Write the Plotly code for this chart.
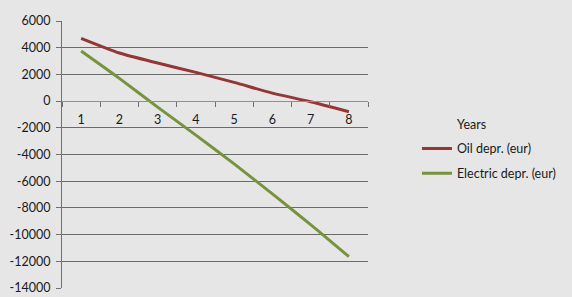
import plotly.graph_objects as go

years = ["1", "2", "3", "4", "5", "6", "7", "8"]
oil = [4700, 3600, 2850, 2150, 1400, 600, -50, -800]
electric = [3750, 1700, -450, -2550, -4700, -6950, -9250, -11650]
y_ticks = [6000, 4000, 2000, 0, -2000, -4000, -6000, -8000, -10000, -12000, -14000]
y_labels = [str(v) for v in y_ticks]

fig = go.Figure()
fig.add_trace(go.Scatter(x=years, y=[None] * len(years), name="Years", mode="lines",
                         legendgroup="a", line=dict(color="rgba(0,0,0,0)", width=3)))
fig.add_trace(go.Scatter(x=years, y=oil, name="Oil depr. (eur)", mode="lines", legendgroup="b",
                         line=dict(color="#943634", width=3, shape="spline", smoothing=0.6)))
fig.add_trace(go.Scatter(x=years, y=electric, name="Electric depr. (eur)", mode="lines",
                         legendgroup="c",
                         line=dict(color="#77933c", width=3, shape="spline", smoothing=0.6)))

fig.update_layout(
    width=572, height=297,
    margin=dict(l=62, r=204, t=21, b=9, autoexpand=False),
    paper_bgcolor="#e6e6e6", plot_bgcolor="#e6e6e6",
    font=dict(family="Lato, Open Sans, sans-serif", size=12.5, color="#1a1a1a"),
    showlegend=True,
    legend=dict(x=1.16, y=0.67, xanchor="left", yanchor="top", bgcolor="rgba(0,0,0,0)",
                font=dict(size=12.5), itemwidth=30, tracegroupgap=5.5),
    xaxis=dict(type="category", anchor="free", position=0.7, showline=True,
               linecolor="#909090", linewidth=1, ticks="outside", tickson="boundaries",
               ticklen=5, tickcolor="#707070", showgrid=False, zeroline=False,
               range=[-0.5, 7.5], fixedrange=True, ticklabelstandoff=7, automargin=False),
    yaxis=dict(range=[-14000, 6000], tickvals=y_ticks, ticktext=y_labels, showline=True,
               linecolor="#707070", linewidth=1, ticks="outside", ticklen=5,
               tickcolor="#707070", showgrid=True, gridcolor="#6a6a6a", gridwidth=1,
               zeroline=False, domain=[0, 1], ticklabelstandoff=3, automargin=False),
)
fig.write_html("out.html")
